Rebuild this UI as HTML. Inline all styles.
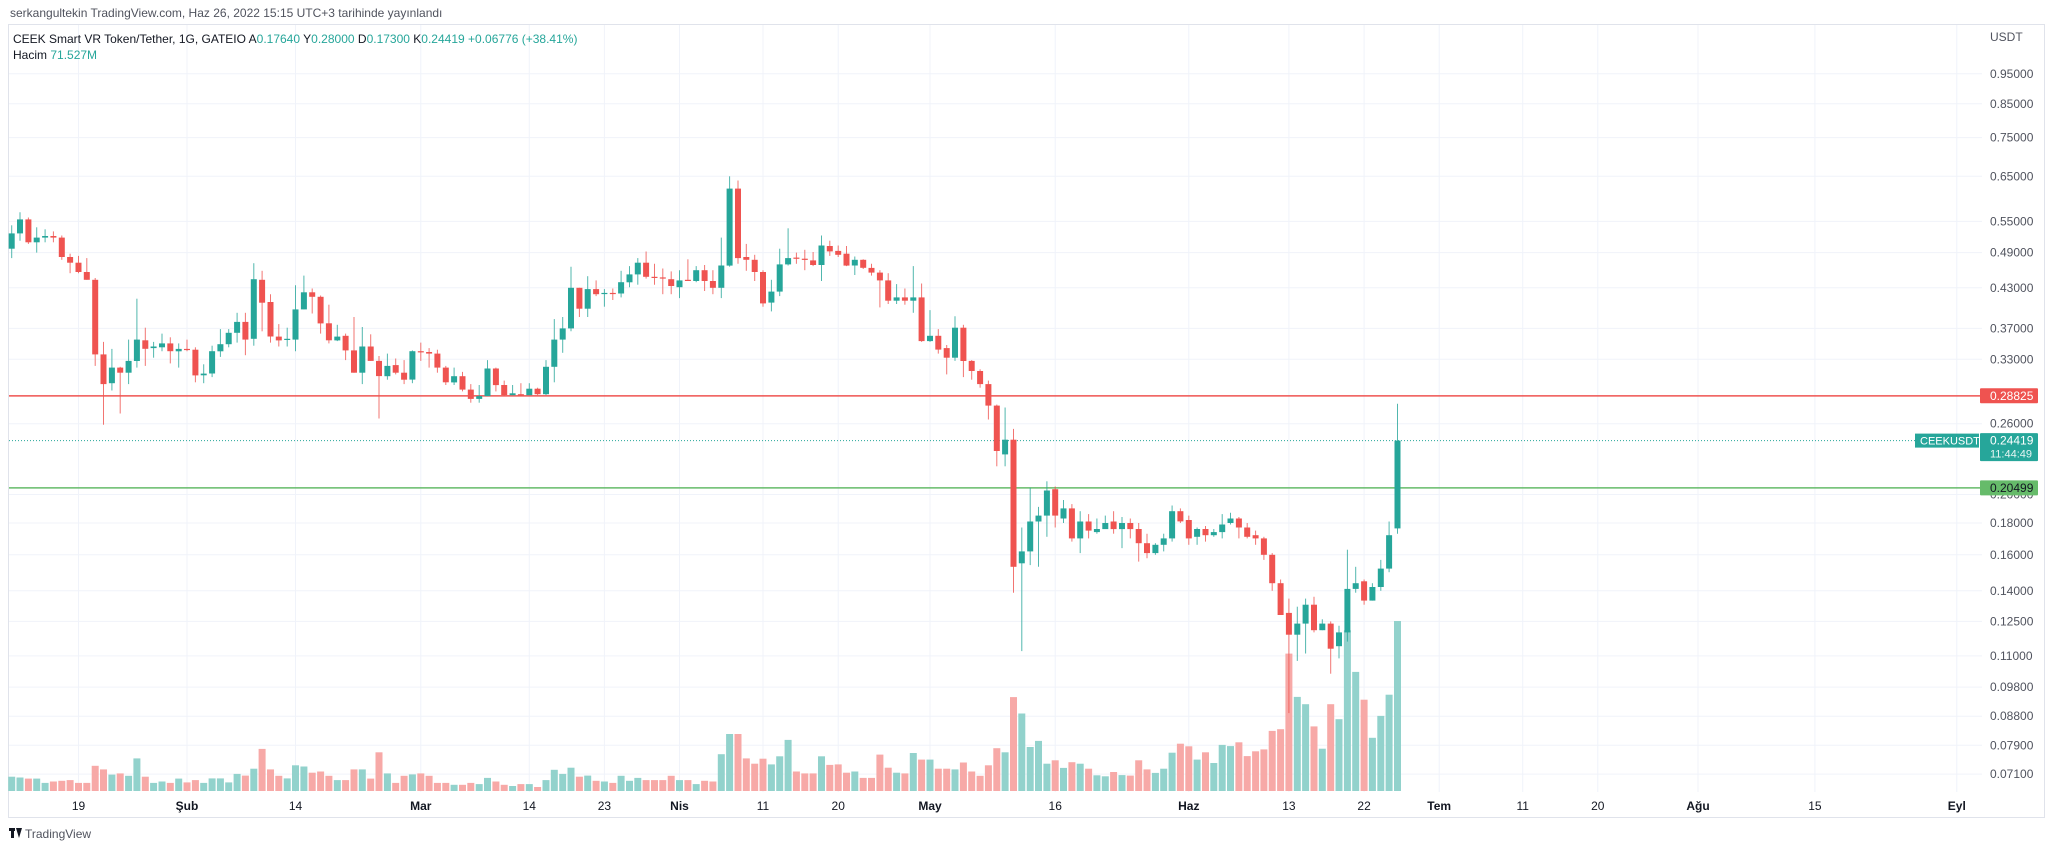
<!DOCTYPE html>
<html><head><meta charset="utf-8"><title>CEEKUSDT chart</title>
<style>
html,body{margin:0;padding:0;background:#fff;}
body{width:2048px;height:850px;overflow:hidden;font-family:"Liberation Sans",sans-serif;}
svg text{font-family:"Liberation Sans",sans-serif;}
</style></head>
<body>
<svg id="chart" width="2048" height="850" viewBox="0 0 2048 850" xmlns="http://www.w3.org/2000/svg">
  <text x="10" y="17" font-size="12" fill="#50535e">serkangultekin TradingView.com, Haz 26, 2022 15:15 UTC+3 tarihinde yayınlandı</text>
  <rect x="8.5" y="24.5" width="2036" height="793" fill="none" stroke="#e0e3eb" stroke-width="1"/>
  <g id="grid"></g>
  <g id="vol"></g>
  <g id="levels"></g>
  <g id="candles"></g>
  <g id="yaxis"></g>
  <g id="xaxis"></g>
  <text x="13" y="43" font-size="12" fill="#131722">CEEK Smart VR Token/Tether, 1G, GATEIO  A<tspan fill="#26a69a">0.17640</tspan>  Y<tspan fill="#26a69a">0.28000</tspan>  D<tspan fill="#26a69a">0.17300</tspan>  K<tspan fill="#26a69a">0.24419</tspan>  <tspan fill="#26a69a">+0.06776 (+38.41%)</tspan></text>
  <text x="13" y="59" font-size="12" fill="#131722">Hacim  <tspan fill="#26a69a">71.527M</tspan></text>
  <g>
    <rect x="9" y="828" width="6" height="3" fill="#131722"/><rect x="11" y="828" width="3" height="10" fill="#131722"/>
    <polygon points="16,828 22,828 19,838" fill="#131722"/>
    <text x="25" y="838" font-size="12" fill="#50535e">TradingView</text>
  </g>
</svg>
<script>
const open = [.497,.526,.554,.509,.518,.521,.518,.482,.472,.456,
.443,.336,.302,.320,.314,.328,.354,.344,.345,.350,
.340,.343,.342,.311,.313,.340,.349,.364,.379,.356,
.443,.408,.359,.355,.355,.397,.423,.416,.377,.354,
.360,.341,.314,.346,.328,.310,.323,.314,.306,.340,
.339,.337,.320,.303,.310,.295,.285,.288,.319,.300,
.289,.290,.289,.296,.290,.321,.355,.370,.430,.398,
.428,.421,.422,.421,.439,.452,.472,.448,.447,.444,
.431,.443,.441,.459,.441,.430,.467,.621,.482,.477,
.456,.407,.424,.469,.481,.479,.476,.468,.502,.493,
.488,.467,.477,.463,.455,.442,.410,.415,.410,.415,
.353,.360,.344,.332,.371,.328,.316,.301,.278,.232,
.245,.155,.162,.181,.185,.204,.183,.190,.170,.181,
.174,.176,.181,.176,.180,.176,.167,.161,.166,.170,
.188,.182,.171,.176,.172,.174,.180,.183,.177,.172,
.170,.160,.144,.129,.119,.124,.133,.121,.124,.114,
.120,.141,.145,.135,.142,.152,.1764];
const high = [.542,.569,.558,.538,.534,.530,.522,.488,.484,.480,
.446,.352,.343,.321,.355,.413,.371,.352,.363,.358,
.350,.355,.345,.324,.347,.369,.369,.392,.392,.471,
.458,.420,.376,.371,.434,.450,.429,.418,.404,.375,
.363,.386,.372,.362,.334,.337,.331,.329,.341,.351,
.344,.342,.322,.320,.315,.301,.300,.329,.320,.305,
.300,.302,.302,.297,.329,.383,.386,.465,.430,.449,
.442,.428,.429,.458,.466,.480,.492,.470,.462,.457,
.459,.478,.466,.468,.459,.518,.650,.640,.506,.486,
.459,.443,.497,.536,.490,.495,.491,.522,.512,.503,
.502,.483,.478,.470,.459,.454,.436,.429,.466,.437,
.396,.369,.348,.387,.375,.329,.318,.305,.279,.276,
.255,.177,.205,.191,.210,.206,.196,.193,.188,.186,
.183,.185,.188,.184,.183,.180,.173,.167,.173,.192,
.190,.185,.177,.178,.176,.186,.187,.184,.180,.175,
.171,.161,.146,.136,.132,.136,.137,.126,.125,.123,
.163,.153,.146,.144,.157,.181,.28];
const low = [.480,.512,.506,.490,.509,.509,.477,.454,.454,.443,
.322,.259,.294,.270,.301,.320,.322,.332,.340,.325,
.320,.340,.303,.302,.309,.333,.345,.351,.335,.347,
.366,.351,.346,.346,.340,.397,.391,.363,.350,.353,
.329,.314,.301,.328,.265,.306,.312,.301,.302,.328,
.320,.314,.300,.300,.293,.281,.281,.288,.293,.288,
.289,.289,.289,.289,.289,.303,.338,.366,.386,.386,
.417,.401,.411,.415,.431,.435,.445,.435,.420,.420,
.414,.441,.439,.425,.420,.414,.465,.470,.458,.441,
.401,.394,.417,.467,.470,.459,.466,.441,.484,.482,
.466,.451,.461,.450,.400,.405,.405,.404,.392,.352,
.352,.337,.312,.328,.309,.306,.297,.264,.222,.222,
.139,.112,.154,.153,.171,.177,.180,.168,.161,.170,
.173,.176,.173,.164,.170,.156,.158,.160,.162,.168,
.180,.166,.166,.168,.171,.170,.179,.170,.170,.166,
.157,.140,.128,.089,.108,.111,.120,.121,.103,.109,
.116,.139,.133,.135,.140,.150,.173];
const close = [.526,.554,.509,.518,.521,.518,.482,.472,.456,.443,
.336,.301,.320,.314,.328,.355,.343,.346,.350,.340,
.343,.342,.311,.313,.340,.349,.364,.379,.355,.444,
.407,.359,.354,.356,.397,.423,.416,.377,.354,.359,
.341,.314,.346,.328,.310,.322,.314,.306,.340,.339,
.337,.320,.303,.310,.295,.285,.288,.319,.300,.289,
.291,.289,.296,.290,.321,.355,.370,.430,.398,.428,
.420,.422,.421,.439,.452,.472,.448,.447,.445,.433,
.442,.442,.459,.441,.430,.467,.621,.480,.477,.456,
.406,.424,.469,.480,.479,.478,.468,.503,.492,.486,
.467,.477,.463,.455,.442,.410,.415,.410,.415,.353,
.360,.342,.332,.371,.328,.316,.301,.278,.235,.245,
.153,.162,.181,.185,.203,.185,.190,.170,.181,.175,
.176,.180,.176,.180,.176,.167,.161,.166,.170,.188,
.181,.170,.176,.172,.174,.179,.183,.177,.171,.170,
.160,.144,.128,.119,.124,.133,.121,.124,.113,.120,
.141,.144,.135,.142,.152,.172,.24419];
const volume = [6.0,5.7,5.2,5.2,3.4,4.0,4.3,4.6,3.4,3.4,
10.6,9.1,6.9,7.4,6.4,13.7,6.0,3.4,4.0,3.4,
5.2,3.6,4.6,3.4,5.3,5.3,3.6,7.2,6.5,9.4,
17.7,9.1,6.4,5.3,10.8,10.3,7.7,8.2,6.4,4.6,
4.6,9.1,9.1,5.2,16.3,7.4,3.4,6.4,7.0,7.4,
6.4,3.4,3.4,2.6,2.6,3.4,2.9,5.5,4.0,2.6,
2.1,2.9,2.9,1.7,4.6,8.9,7.2,9.8,6.0,6.5,
4.3,4.0,3.4,6.4,4.3,5.5,4.6,4.6,4.6,6.4,
4.6,4.6,2.9,4.3,4.0,15.5,24.0,24.0,13.7,11.5,
13.6,11.2,14.6,21.5,8.2,7.4,7.4,14.6,11.0,11.2,
7.7,8.2,5.5,5.5,15.3,9.8,7.7,7.4,16.0,13.2,
13.2,9.4,9.4,9.1,12.0,8.2,6.4,10.8,18.0,16.3,
39.5,32.6,18.5,21.1,11.5,12.9,9.7,12.1,11.5,9.4,
6.6,6.2,8.0,6.7,6.5,12.9,9.1,7.6,9.4,16.1,
19.9,18.8,13.2,16.3,11.8,19.4,18.9,20.5,14.7,16.7,
17.5,25.3,26.0,57.8,39.6,36.5,27.2,17.8,36.5,30.2,
67.6,50.1,38.4,22.4,31.6,40.5,71.527];
const priceTicks = [0.95,0.85,0.75,0.65,0.55,0.49,0.43,0.37,0.33,0.26,0.20,0.18,0.16,0.14,0.125,0.11,0.098,0.088,0.079,0.071];
const priceTickLabels = ["0.95000","0.85000","0.75000","0.65000","0.55000","0.49000","0.43000","0.37000","0.33000","0.26000","0.20000","0.18000","0.16000","0.14000","0.12500","0.11000","0.09800","0.08800","0.07900","0.07100"];
const timeTickDays = [8,21,34,49,62,71,80,90,99,110,125,141,153,162,171,181,190,202,216,233];
const timeTickLabels = ["19","Şub","14","Mar","14","23","Nis","11","20","May","16","Haz","13","22","Tem","11","20","Ağu","15","Eyl"];
const timeTickMonth = [false,true,false,true,false,false,true,false,false,true,false,true,false,false,true,false,false,true,false,true];
const resistanceLevel = 0.28825;
const supportLevel = 0.20499;
const lastPrice = 0.24419;

const NS = "http://www.w3.org/2000/svg";
function x(i){ return 11.7 + 8.348*i; }
function y(p){ return 359.3 - Math.log(p/0.33)*270; }
const volBase = 791, volPx = 170/71.527;
function vy(v){ return volBase - v*volPx; }
function mk(tag, attrs, parent){ const e=document.createElementNS(NS,tag); for(const k in attrs) e.setAttribute(k,attrs[k]); parent.appendChild(e); return e; }

const grid=document.getElementById('grid');
priceTicks.forEach((p,k)=>{
  const l=mk('line',{x1:9,x2:1982,y1:y(p).toFixed(1),y2:y(p).toFixed(1),stroke:'#f0f3fa','stroke-width':1},grid);
  
  
});
timeTickDays.forEach((d,k)=>{
  const l=mk('line',{x1:x(d).toFixed(1),x2:x(d).toFixed(1),y1:25,y2:792,stroke:'#f0f3fa','stroke-width':1},grid);
  
  
});

const vg=document.getElementById('vol');
volume.forEach((v,i)=>{
  const up = close[i]>=open[i];
  const r=mk('rect',{x:(x(i)-3.5).toFixed(1),y:vy(v).toFixed(1),width:7,height:(volBase-vy(v)).toFixed(1),fill:up?'#92d2cc':'#f7a9a7'},vg);
  
  
});

const lv=document.getElementById('levels');
const rl=mk('line',{x1:9,x2:1980,y1:y(resistanceLevel),y2:y(resistanceLevel),stroke:'#ef5350','stroke-width':1.5},lv);


const gl=mk('line',{x1:9,x2:1980,y1:y(supportLevel),y2:y(supportLevel),stroke:'#66bb6a','stroke-width':1.5},lv);


const pl=mk('line',{x1:9,x2:1915,y1:y(lastPrice),y2:y(lastPrice),stroke:'#26a69a','stroke-width':1,'stroke-dasharray':'1 2'},lv);



const cg=document.getElementById('candles');
open.forEach((o,i)=>{
  const c=close[i], up=c>=o, col=up?'#26a69a':'#ef5350';
  const g=mk('g',{},cg);
  
  
  mk('line',{x1:x(i).toFixed(1),x2:x(i).toFixed(1),y1:y(high[i]).toFixed(1),y2:y(low[i]).toFixed(1),stroke:col,'stroke-width':1,opacity:0.8},g);
  const top=Math.min(y(o),y(c)), h=Math.max(1.2,Math.abs(y(o)-y(c)));
  mk('rect',{x:(x(i)-3).toFixed(1),y:top.toFixed(1),width:6,height:h.toFixed(1),fill:col},g);
});

const ya=document.getElementById('yaxis');
const u=mk('text',{x:1990,y:41,'font-size':12,fill:'#50535e'},ya); u.textContent='USDT';


priceTicks.forEach((p,k)=>{
  const t=mk('text',{x:1990,y:(y(p)+4).toFixed(1),'font-size':12,fill:'#50535e'},ya);
  t.textContent=priceTickLabels[k];
  
  
});
function tag(price,fill,txt,name,h){
  const g=mk('g',{},ya);
  
  
  const yy=y(price);
  mk('rect',{x:1980,y:(yy-7.5).toFixed(1),width:58,height:h,fill:fill,rx:1},g);
  const t=mk('text',{x:1990,y:(yy+4).toFixed(1),'font-size':12,fill:txt},g); t.textContent=price.toFixed(5);
  return g;
}
tag(resistanceLevel,'#ef5350','#fff','resistance-price-tag',15);
tag(supportLevel,'#66bb6a','#131722','support-price-tag',15);
const lg=tag(lastPrice,'#26a69a','#fff','last-price-tag',28);
const cd=mk('text',{x:1990,y:(y(lastPrice)+17).toFixed(1),'font-size':11,fill:'#e6f5f3'},lg); cd.textContent='11:44:49';
const st=mk('g',{},ya);


mk('rect',{x:1915,y:(y(lastPrice)-7).toFixed(1),width:64,height:14,fill:'#26a69a'},st);
const stt=mk('text',{x:1920,y:(y(lastPrice)+4).toFixed(1),'font-size':11,fill:'#fff'},st); stt.textContent='CEEKUSDT';

const xa=document.getElementById('xaxis');
timeTickDays.forEach((d,k)=>{
  const t=mk('text',{x:x(d).toFixed(1),y:810,'font-size':12,fill:'#131722','text-anchor':'middle','font-weight':timeTickMonth[k]?'bold':'normal'},xa);
  t.textContent=timeTickLabels[k];
  
  
});
</script>
</body></html>
